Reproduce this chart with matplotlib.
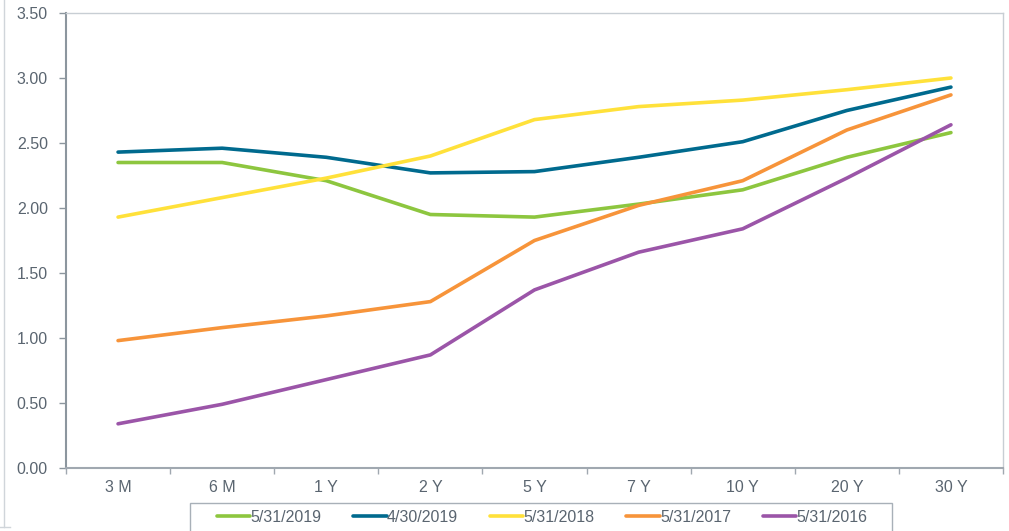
import matplotlib
matplotlib.use("Agg")
import matplotlib.pyplot as plt
from matplotlib.lines import Line2D
from matplotlib.patches import Rectangle

categories = ["3 M", "6 M", "1 Y", "2 Y", "5 Y", "7 Y", "10 Y", "20 Y", "30 Y"]
s_2019_05 = [2.35, 2.35, 2.21, 1.95, 1.93, 2.03, 2.14, 2.39, 2.58]
s_2019_04 = [2.43, 2.46, 2.39, 2.27, 2.28, 2.39, 2.51, 2.75, 2.93]
s_2018_05 = [1.93, 2.08, 2.23, 2.40, 2.68, 2.78, 2.83, 2.91, 3.00]
s_2017_05 = [0.98, 1.08, 1.17, 1.28, 1.75, 2.02, 2.21, 2.60, 2.87]
s_2016_05 = [0.34, 0.49, 0.68, 0.87, 1.37, 1.66, 1.84, 2.23, 2.64]
labels = ["5/31/2019", "4/30/2019", "5/31/2018", "5/31/2017", "5/31/2016"]
y_ticks = [0.0, 0.5, 1.0, 1.5, 2.0, 2.5, 3.0, 3.5]

series = [s_2019_05, s_2019_04, s_2018_05, s_2017_05, s_2016_05]
colors = ["#8DC63F", "#006A8E", "#FFE13A", "#F7943A", "#9B55A8"]

plt.rcParams['font.family'] = ['Liberation Sans', 'DejaVu Sans']
text_color = "#5A6570"
fs = 11.5

fig = plt.figure(figsize=(10.09, 5.31), dpi=100)
ax = fig.add_axes([66/1009, 1-468/531, (1003-66)/1009, (468-13)/531])

x = list(range(len(categories)))
handles = []
for vals, c, lab in zip(series, colors, labels):
    h, = ax.plot(x, vals, color=c, lw=2.6, solid_capstyle='round', label=lab)
    handles.append(h)

ax.set_xlim(-0.5, len(categories) - 0.5)
ax.set_ylim(0, 3.5)
ax.set_yticks(y_ticks)
ax.set_yticklabels([f"{v:.2f}" for v in y_ticks])
ax.set_xticks(x)
ax.set_xticklabels(categories)
ax.set_xticks([i - 0.5 for i in range(len(categories) + 1)], minor=True)
ax.tick_params(axis='x', which='major', length=0, pad=9, labelsize=fs, labelcolor=text_color)
ax.tick_params(axis='x', which='minor', length=4, width=1, color="#A0A8B0", direction='out')
ax.tick_params(axis='y', length=5, width=1, color="#8C969E", pad=8, labelsize=fs, labelcolor=text_color)

ax.spines['left'].set_color("#8C969E")
ax.spines['left'].set_linewidth(1.5)
ax.spines['bottom'].set_color("#A0A8B0")
ax.spines['bottom'].set_linewidth(1.5)
for s in ['top', 'right']:
    ax.spines[s].set_color("#C8CED4")
    ax.spines[s].set_linewidth(1.0)

leg = fig.legend(handles=handles, labels=labels, loc='center',
                 bbox_to_anchor=(542/1009, 1-517/531), ncol=5, frameon=False,
                 fontsize=fs, handlelength=2.1, handletextpad=0.0,
                 columnspacing=2.0, borderpad=0.0, borderaxespad=0.0,
                 labelcolor=text_color)

fig.add_artist(Rectangle((190/1009, -0.05), (892-190)/1009, 0.05 + (531-503)/531,
                         transform=fig.transFigure, fill=False,
                         edgecolor="#A8B0B8", lw=1.0))
fig.add_artist(Line2D([4/1009, 4/1009], [1-527/531, 1.0], transform=fig.transFigure,
                      color="#D0D5DA", lw=1.0))
fig.add_artist(Line2D([0, 10/1009], [1-527/531, 1-527/531], transform=fig.transFigure,
                      color="#D0D5DA", lw=1.0))

fig.savefig("out.png", dpi=100)
